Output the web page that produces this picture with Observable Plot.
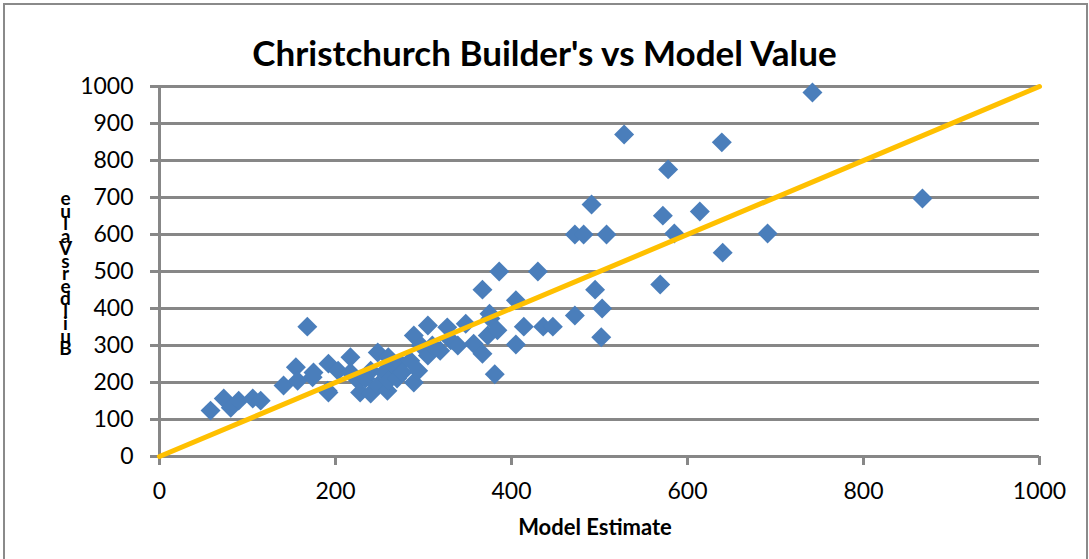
<!DOCTYPE html>
<html>
<head>
<meta charset="utf-8">
<script src="https://cdn.jsdelivr.net/npm/d3@7"></script>
<script src="https://cdn.jsdelivr.net/npm/@observablehq/plot@0.6"></script>
<style>
  body { margin: 0; background: #fff; }
  #wrap { position: relative; width: 1089px; height: 559px; overflow: hidden; background: #fff; font-family: Lato, "Open Sans", sans-serif; }
  #frame { position: absolute; left: 3px; top: 3px; width: 1081px; height: 600px; border: 2px solid #8a8a8a; }
  #title { position: relative; height: 80px; box-sizing: border-box; padding-top: 31px; line-height: 1.2; text-align: center; font-weight: bold; font-size: 35px; color: #000; }
  #ylabel { position: absolute; left: 53px; top: 186px; width: 24px; height: 170px; writing-mode: vertical-rl; text-orientation: upright; letter-spacing: -10.5px; font-weight: bold; font-size: 19px; line-height: 24px; color: #000; white-space: nowrap; }
  #xlabel { position: absolute; left: 395px; width: 400px; top: 514px; line-height: 1.2; text-align: center; font-weight: bold; font-size: 22px; color: #000; }
  #chart { position: relative; }
</style>
</head>
<body>
<div id="wrap">
  <div id="frame"></div>
  <div id="title">Christchurch Builder's vs Model Value</div>
  <div id="chart"></div>
  <div id="ylabel"></div>
  <div id="xlabel">Model Estimate</div>
</div>
<script>
const modelEstimate = [58,73,81,90,106,115,141,155,157,168,174,175,192,192,191,203,217,217,226,228,234,240,240,248,248,255,259,260,260,265,270,274,276,285,289,289,294,297,305,305,310,319,327,331,339,348,357,367,367,373,375,376,381,384,386,405,405,414,430,436,447,472,472,482,491,495,503,502,508,528,569,572,578,585,614,639,640,691,742,867];
const buildersValue = [124,157,132,151,157,151,192,241,205,351,214,227,251,173,178,232,268,227,205,173,211,170,232,281,192,227,178,268,205,249,211,251,227,259,200,327,232,300,354,273,300,286,349,314,300,359,305,451,278,327,386,373,222,341,500,422,303,351,500,351,351,381,600,600,681,451,400,322,600,870,465,651,776,603,662,849,551,603,984,697];
const xTicks = [0, 200, 400, 600, 800, 1000];
const yTicks = [0, 100, 200, 300, 400, 500, 600, 700, 800, 900, 1000];
const referenceLine = [0, 1000];
const yLabelText = "Builders Value";

const points = modelEstimate.map((m, i) => ({model: m, builders: buildersValue[i]}));

// Excel stacks the letters of the vertical title bottom-to-top
document.getElementById("ylabel").textContent =
  yLabelText.replace(/ /g, "").split("").reverse().join("");

const grid = "#878787";
const chart = Plot.plot({
  width: 1089,
  height: 479,
  marginTop: 6,
  marginLeft: 159,
  marginRight: 50,
  marginBottom: 103,
  style: {fontFamily: "Lato, 'Open Sans', sans-serif", color: "#000", background: "transparent", overflow: "visible"},
  x: {domain: [0, 1000]},
  y: {domain: [0, 1000]},
  marks: [
    Plot.ruleY(yTicks, {stroke: grid, strokeWidth: 3, insetLeft: -9}),
    Plot.ruleX([0], {stroke: grid, strokeWidth: 3, insetBottom: -9}),
    Plot.axisY({ticks: yTicks, tickFormat: d => String(d), tickSize: 0, tickPadding: 26, fontSize: 23, label: null}),
    Plot.axisX({ticks: xTicks, tickFormat: d => String(d), tickSize: 9, tickPadding: 17, fontSize: 23, stroke: grid, strokeWidth: 3, label: null}),
    Plot.dot(points, {x: "model", y: "builders", symbol: "diamond2", r: 9, fill: "#4A7EBB"}),
    Plot.line(referenceLine, {x: d => d, y: d => d, stroke: "#FFC000", strokeWidth: 5, strokeLinecap: "round"})
  ]
});
document.getElementById("chart").appendChild(chart);
</script>
</body>
</html>
